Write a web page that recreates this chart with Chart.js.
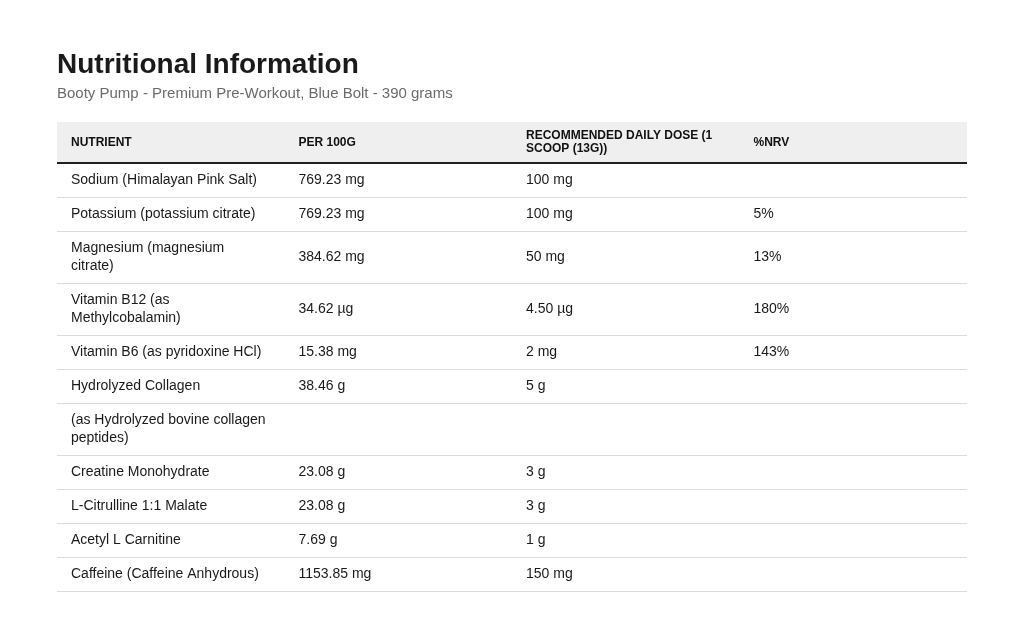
<!DOCTYPE html>
<html><head><meta charset="utf-8">
<script src="https://cdn.jsdelivr.net/npm/chart.js@4"></script>
<style>html,body{margin:0;background:#fff}#c{display:block}</style>
</head><body><canvas id="c" width="1024" height="625"></canvas>
<script>
const title = "Nutritional Information";
const subtitle = "Booty Pump - Premium Pre-Workout, Blue Bolt - 390 grams";
const headers = ["NUTRIENT", "PER 100G", "RECOMMENDED DAILY DOSE (1 SCOOP (13G))", "%NRV"];
const nutrients = ["Sodium (Himalayan Pink Salt)", "Potassium (potassium citrate)", "Magnesium (magnesium citrate)", "Vitamin B12 (as Methylcobalamin)", "Vitamin B6 (as pyridoxine HCl)", "Hydrolyzed Collagen", "(as Hydrolyzed bovine collagen peptides)", "Creatine Monohydrate", "L-Citrulline 1:1 Malate", "Acetyl L Carnitine", "Caffeine (Caffeine Anhydrous)"];
const per100g = ["769.23 mg", "769.23 mg", "384.62 mg", "34.62 µg", "15.38 mg", "38.46 g", "", "23.08 g", "23.08 g", "7.69 g", "1153.85 mg"];
const dailyDose = ["100 mg", "100 mg", "50 mg", "4.50 µg", "2 mg", "5 g", "", "3 g", "3 g", "1 g", "150 mg"];
const nrv = ["", "5%", "13%", "180%", "143%", "", "", "", "", "", ""];

const FONT = "'Liberation Sans', Arial, sans-serif";
const mctx = document.createElement('canvas').getContext('2d');
function wrap(text, font, maxW) {
  mctx.font = font;
  const words = text.split(' '); const lines = []; let cur = '';
  for (const w of words) {
    const t = cur ? cur + ' ' + w : w;
    if (mctx.measureText(t).width > maxW && cur) { lines.push(cur); cur = w; } else cur = t;
  }
  if (cur) lines.push(cur);
  return lines;
}
const bodyFont = "14px " + FONT, headFont = "bold 12px " + FONT;
const cellW = 199;
const rows = nutrients.map((n, i) => [n, per100g[i], dailyDose[i], nrv[i]].map(t => t ? wrap(t, bodyFont, cellW) : []));
const heads = headers.map(h => wrap(h, headFont, cellW));
const rowH = rows.map(r => 16 + 18 * Math.max(1, ...r.map(c => c.length)));
const headH = 41;
const total = headH + rowH.reduce((a, b) => a + b, 0);

const tablePlugin = {
  id: 'table',
  afterDraw(chart) {
    const ctx = chart.ctx, x = chart.scales.x, y = chart.scales.y;
    const L = chart.chartArea.left, R = chart.chartArea.right;
    ctx.save();
    ctx.fillStyle = '#1a1a1a'; ctx.font = "bold 28px " + FONT; ctx.textBaseline = 'middle';
    ctx.fillText(title, L, 65);
    ctx.fillStyle = '#6b6b6b'; ctx.font = "15px " + FONT;
    ctx.fillText(subtitle, L, 94);
    const y0 = y.getPixelForValue(0), y1 = y.getPixelForValue(headH);
    ctx.fillStyle = '#efefef'; ctx.fillRect(L, y0, R - L, y1 - y0);
    ctx.fillStyle = '#111'; ctx.font = headFont;
    heads.forEach((lines, c) => {
      const cx = x.getPixelForValue(c) + 14, cy = (y0 + y1) / 2 - (lines.length - 1) * 6.5;
      lines.forEach((l, k) => ctx.fillText(l, cx, cy + k * 13));
    });
    ctx.strokeStyle = '#222'; ctx.lineWidth = 2;
    ctx.beginPath(); ctx.moveTo(L, y1); ctx.lineTo(R, y1); ctx.stroke();
    let acc = headH;
    rows.forEach((r, i) => {
      const a = y.getPixelForValue(acc), b = y.getPixelForValue(acc + rowH[i]);
      ctx.fillStyle = '#1a1a1a'; ctx.font = bodyFont;
      r.forEach((lines, c) => {
        const cx = x.getPixelForValue(c) + 14, cy = (a + b) / 2 - (lines.length - 1) * 9;
        lines.forEach((l, k) => ctx.fillText(l, cx, cy + k * 18));
      });
      ctx.strokeStyle = '#dcdcdc'; ctx.lineWidth = 1;
      ctx.beginPath(); ctx.moveTo(L, Math.round(b) + 0.5); ctx.lineTo(R, Math.round(b) + 0.5); ctx.stroke();
      acc += rowH[i];
    });
    ctx.restore();
  }
};

new Chart(document.getElementById('c'), {
  type: 'scatter',
  data: { datasets: [{ data: [] }] },
  options: {
    responsive: false, animation: false, devicePixelRatio: 1,
    layout: { padding: { left: 57, right: 57, top: 122, bottom: 625 - 122 - total } },
    plugins: { legend: { display: false }, tooltip: { enabled: false } },
    scales: {
      x: { type: 'linear', min: 0, max: 4, display: false },
      y: { type: 'linear', min: 0, max: total, reverse: true, display: false }
    }
  },
  plugins: [tablePlugin]
});
</script></body></html>
